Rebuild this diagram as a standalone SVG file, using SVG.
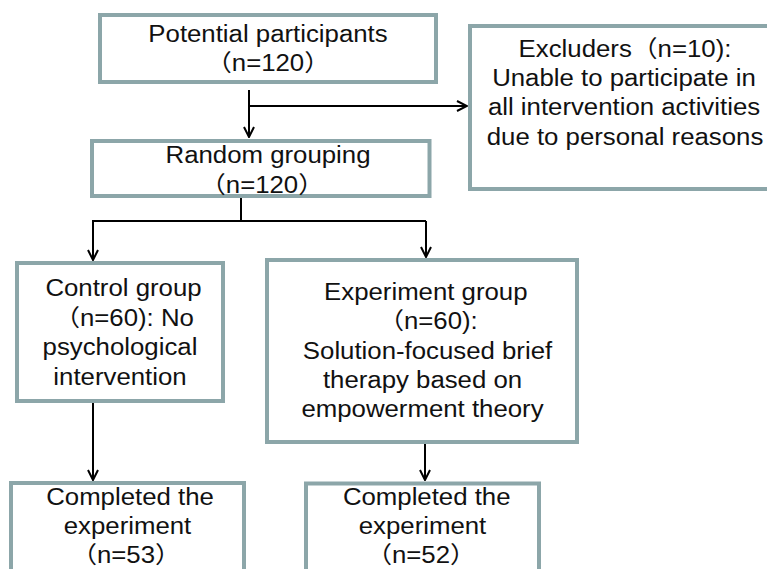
<svg xmlns="http://www.w3.org/2000/svg" width="767" height="569" viewBox="0 0 767 569">
<defs>
<style>
.box{fill:#ffffff;stroke:#8ca6a9;stroke-width:4}
.t{font-family:"Liberation Sans","Noto Sans CJK SC",Arial,sans-serif;font-size:23.3px;fill:#111111;text-anchor:middle}
.c{fill:none;stroke:#000000;stroke-width:2}
</style>
<marker id="ah" viewBox="0 0 12 12" refX="11" refY="6" markerWidth="12" markerHeight="12" markerUnits="userSpaceOnUse" orient="auto">
<path d="M1,1 L11,6 L1,11" fill="none" stroke="#000000" stroke-width="2"/>
</marker>
</defs>
<rect x="0" y="0" width="767" height="569" fill="#ffffff"/>
<g id="connectors">
<path class="c" d="M249,90 V137" marker-end="url(#ah)"/>
<path class="c" d="M249,106 H467" marker-end="url(#ah)"/>
<path class="c" d="M241,198 V221 M92,221 H426"/>
<path class="c" d="M93,221 V260" marker-end="url(#ah)"/>
<path class="c" d="M426,221 V257" marker-end="url(#ah)"/>
<path class="c" d="M93,403 V480" marker-end="url(#ah)"/>
<path class="c" d="M425,444 V480" marker-end="url(#ah)"/>
</g>
<g id="potential">
<rect class="box" x="100" y="15" width="336" height="67"/>
<g transform="translate(268 0) scale(1.107 1)"><text class="t" x="0" y="41.7">Potential participants</text></g>
<g transform="translate(268 0) scale(1.107 1)"><text class="t" x="0" y="71">（n=120）</text></g>
</g>
<g id="excluders">
<rect class="box" x="470" y="26" width="310" height="163"/>
<g transform="translate(625 0) scale(1.107 1)"><text class="t" x="0" y="57">Excluders（n=10):</text></g>
<g transform="translate(624 0) scale(1.107 1)"><text class="t" x="0" y="86.3">Unable to participate in</text></g>
<g transform="translate(624 0) scale(1.107 1)"><text class="t" x="0" y="115.5">all intervention activities</text></g>
<g transform="translate(625 0) scale(1.107 1)"><text class="t" x="0" y="144.7">due to personal reasons</text></g>
</g>
<g id="random">
<rect class="box" x="92" y="141" width="337.5" height="55"/>
<g transform="translate(268 0) scale(1.107 1)"><text class="t" x="0" y="163.3">Random grouping</text></g>
<g transform="translate(262 0) scale(1.107 1)"><text class="t" x="0" y="192.7">（n=120）</text></g>
</g>
<g id="control">
<rect class="box" x="17" y="263" width="206" height="138"/>
<g transform="translate(123.5 0) scale(1.107 1)"><text class="t" x="0" y="296">Control group</text></g>
<g transform="translate(124 0) scale(1.107 1)"><text class="t" x="0" y="326">（n=60): No</text></g>
<g transform="translate(120 0) scale(1.107 1)"><text class="t" x="0" y="355.5">psychological</text></g>
<g transform="translate(120 0) scale(1.107 1)"><text class="t" x="0" y="385">intervention</text></g>
</g>
<g id="experiment">
<rect class="box" x="267" y="260" width="310" height="182"/>
<g transform="translate(425.8 0) scale(1.107 1)"><text class="t" x="0" y="300">Experiment group</text></g>
<g transform="translate(428 0) scale(1.107 1)"><text class="t" x="0" y="329.5">（n=60):</text></g>
<g transform="translate(427.5 0) scale(1.107 1)"><text class="t" x="0" y="359">Solution-focused brief</text></g>
<g transform="translate(422.5 0) scale(1.107 1)"><text class="t" x="0" y="388.3">therapy based on</text></g>
<g transform="translate(422.5 0) scale(1.107 1)"><text class="t" x="0" y="417">empowerment theory</text></g>
</g>
<g id="completed-control">
<rect class="box" x="11" y="483" width="233" height="100"/>
<g transform="translate(130 0) scale(1.107 1)"><text class="t" x="0" y="505">Completed the</text></g>
<g transform="translate(127.5 0) scale(1.107 1)"><text class="t" x="0" y="534">experiment</text></g>
<g transform="translate(126 0) scale(1.107 1)"><text class="t" x="0" y="563.3">（n=53）</text></g>
</g>
<g id="completed-experiment">
<rect class="box" x="306" y="483.5" width="233" height="100"/>
<g transform="translate(426.7 0) scale(1.107 1)"><text class="t" x="0" y="505">Completed the</text></g>
<g transform="translate(422.5 0) scale(1.107 1)"><text class="t" x="0" y="534">experiment</text></g>
<g transform="translate(421 0) scale(1.107 1)"><text class="t" x="0" y="563.3">（n=52）</text></g>
</g>
</svg>
